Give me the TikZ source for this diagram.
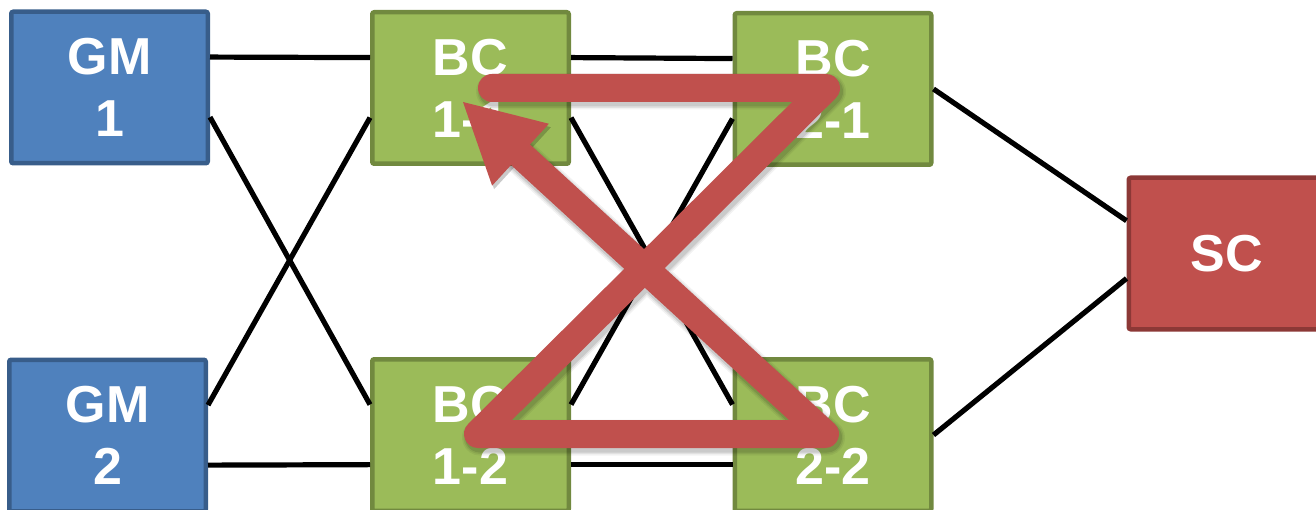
\documentclass[tikz,border=0pt]{standalone}
\usepackage{fontspec}
\setmainfont{Liberation Sans}
\usetikzlibrary{arrows.meta,calc}
\definecolor{gmfill}{HTML}{4F81BD}
\definecolor{gmline}{HTML}{385D8A}
\definecolor{bcfill}{HTML}{9BBB59}
\definecolor{bcline}{HTML}{71893F}
\definecolor{scfill}{HTML}{C0504D}
\definecolor{scline}{HTML}{8C3836}
\definecolor{flowred}{HTML}{C0504D}
\begin{document}
\begin{tikzpicture}[x=1pt,y=-1pt,
  box/.style={rectangle, line width=4.5pt, rounded corners=2pt,
    minimum width=196.5pt, minimum height=151.5pt, inner sep=0pt,
    text=white, align=center, font=\bfseries\fontsize{52}{62}\selectfont},
  gmbox/.style={box, fill=gmfill, draw=gmline},
  bcbox/.style={box, fill=bcfill, draw=bcline},
  scbox/.style={box, fill=scfill, draw=scline},
  link/.style={line width=5.2pt, black},
  flowtip/.style={-{Triangle[width=84pt,length=78pt,line width=0pt]}},
  flow/.style={flowtip, line width=28pt, draw=flowred, line join=round, line cap=round},
  flowshade/.style={flowtip, draw=black, line join=round, line cap=round}
]
\useasboundingbox (0,0) rectangle (1316,510);

% clocks
\node[gmbox] (gm1) at (109.5,87.5) {GM\\1};
\node[gmbox] (gm2) at (107.5,435.5) {GM\\2};
\node[bcbox] (bc11) at (470.5,88) {BC\\1-1};
\node[bcbox] (bc12) at (470.5,435) {BC\\1-2};
\node[bcbox] (bc21) at (833,89) {BC\\2-1};
\node[bcbox] (bc22) at (833,435) {BC\\2-2};
\node[scbox] (sc) at (1227,253.5) {SC};

% links
\draw[link] ($(gm1.north east)!.305!(gm1.south east)$) -- ($(bc11.north west)!.305!(bc11.south west)$);
\draw[link] ($(gm1.north east)!.69!(gm1.south east)$) -- ($(bc12.north west)!.305!(bc12.south west)$);
\draw[link] ($(gm2.north east)!.305!(gm2.south east)$) -- ($(bc11.north west)!.69!(bc11.south west)$);
\draw[link] ($(gm2.north east)!.69!(gm2.south east)$) -- ($(bc12.north west)!.69!(bc12.south west)$);
\draw[link] ($(bc11.north east)!.305!(bc11.south east)$) -- ($(bc21.north west)!.305!(bc21.south west)$);
\draw[link] ($(bc11.north east)!.69!(bc11.south east)$) -- ($(bc22.north west)!.305!(bc22.south west)$);
\draw[link] ($(bc12.north east)!.305!(bc12.south east)$) -- ($(bc21.north west)!.69!(bc21.south west)$);
\draw[link] ($(bc12.north east)!.69!(bc12.south east)$) -- ($(bc22.north west)!.69!(bc22.south west)$);
\draw[link] (bc21.east) -- ($(sc.north west)!.29!(sc.south west)$);
\draw[link] (bc22.east) -- ($(sc.north west)!.66!(sc.south west)$);

% failover route
\coordinate (r0) at (492,88);
\coordinate (r1) at (826,88);
\coordinate (r2) at (478,434);
\coordinate (r3) at (825,434);
\coordinate (r4) at (463,102);

\begin{scope}[transform canvas={xshift=2pt,yshift=-3.5pt}]
  \foreach \w/\o in {36/0.05, 33/0.07, 30/0.10}{
    \draw[flowshade, line width=\w pt, opacity=\o] (r0) -- (r1) -- (r2) -- (r3) -- (r4);
  }
\end{scope}
\draw[flow] (r0) -- (r1) -- (r2) -- (r3) -- (r4);
\end{tikzpicture}
\end{document}
